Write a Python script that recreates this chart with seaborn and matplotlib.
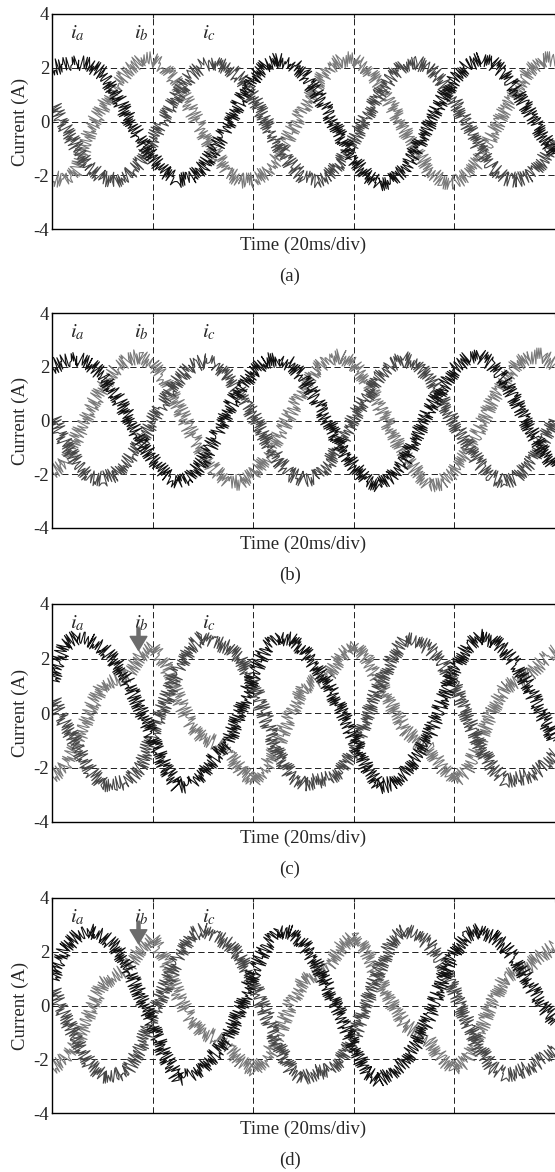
import numpy as np
import matplotlib
matplotlib.use("Agg")
import matplotlib.pyplot as plt
import seaborn as sns

# sample times (ms), one reading every 2.5 ms
t_ms = np.arange(0, 100.1, 2.5)

# (a)
ia_a = [2.0, 2.1, 2.2, 2.1, 1.8, 1.1, 0.2, -0.6, -1.3, -1.9, -2.2, -2.1, -1.7, -1.0, -0.1, 0.8, 1.6,
        2.1, 2.3, 2.2, 1.8, 1.1, 0.3, -0.6, -1.4, -2.0, -2.3, -2.2, -1.8, -1.0, -0.1, 0.8, 1.6, 2.1,
        2.3, 2.2, 1.8, 1.1, 0.3, -0.5, -1.2]
ib_a = [-2.1, -2.2, -1.8, -0.3, 0.5, 1.3, 1.9, 2.3, 2.3, 2.0, 1.4, 0.5, -0.4, -1.2, -1.9, -2.2, -2.2,
        -1.9, -1.3, -0.4, 0.5, 1.3, 2.0, 2.3, 2.3, 2.0, 1.4, 0.6, -0.3, -1.1, -1.8, -2.2, -2.3, -2.0,
        -1.4, -0.5, 0.4, 1.2, 1.9, 2.3, 2.3]
ic_a = [0.7, -0.2, -1.0, -1.7, -2.1, -2.2, -2.0, -1.5, -0.7, 0.2, 1.0, 1.7, 2.1, 2.2, 2.0, 1.6, 0.9,
        0.0, -0.9, -1.6, -2.1, -2.2, -2.0, -1.5, -0.7, 0.2, 1.0, 1.7, 2.1, 2.2, 2.0, 1.5, 0.8, -0.1,
        -1.0, -1.7, -2.1, -2.2, -2.0, -1.5, -0.7]

# (b)
ia_b = [2.0, 2.2, 2.3, 2.1, 1.7, 1.0, 0.2, -0.7, -1.4, -2.0, -2.3, -2.1, -1.5, -0.6, 0.4, 1.2, 1.8,
        2.2, 2.3, 2.1, 1.6, 0.8, -0.1, -1.0, -1.7, -2.2, -2.4, -2.1, -1.5, -0.6, 0.4, 1.2, 1.9, 2.3,
        2.4, 2.1, 1.5, 0.6, -0.3, -1.1, -1.7]
ib_b = [-1.9, -1.6, -0.6, 0.4, 1.2, 1.9, 2.3, 2.4, 2.1, 1.5, 0.6, -0.4, -1.2, -1.9, -2.3, -2.3, -2.0,
        -1.4, -0.6, 0.3, 1.2, 1.9, 2.3, 2.4, 2.1, 1.5, 0.6, -0.4, -1.3, -1.9, -2.4, -2.3, -1.9, -1.2,
        -0.3, 0.7, 1.5, 2.1, 2.4, 2.4, 2.1]
ic_b = [0.2, -0.8, -1.6, -2.1, -2.2, -2.0, -1.5, -0.8, 0.0, 0.8, 1.5, 2.0, 2.2, 2.1, 1.7, 1.0, 0.2,
        -0.7, -1.5, -2.0, -2.2, -2.1, -1.6, -0.8, 0.1, 0.9, 1.6, 2.1, 2.3, 2.1, 1.6, 0.8, -0.1, -0.9,
        -1.6, -2.1, -2.3, -2.1, -1.6, -0.8, 0.0]

# (c)
ia_c = [1.2, 2.5, 2.8, 2.7, 2.4, 1.9, 1.2, 0.2, -0.9, -2.0, -2.7, -2.6, -2.2, -1.6, -1.1, 0.1, 1.4,
        2.4, 2.8, 2.7, 2.3, 1.7, 1.0, 0.1, -0.9, -2.0, -2.7, -2.6, -2.2, -1.6, -0.8, 0.4, 1.6, 2.4,
        2.8, 2.7, 2.3, 1.7, 0.9, -0.1, -1.0]
ib_c = [-2.3, -2.0, -1.1, 0.1, 1.0, 1.2, 1.4, 2.1, 2.4, 1.8, 0.6, -0.4, -0.9, -1.1, -1.4, -2.1, -2.5,
        -2.0, -1.1, 0.0, 0.9, 1.2, 1.4, 2.1, 2.5, 2.0, 1.2, 0.3, -0.6, -1.0, -1.3, -2.0, -2.5, -2.1,
        -1.1, 0.1, 0.9, 1.2, 1.4, 1.9, 2.3]
ic_c = [0.6, -0.4, -1.2, -2.1, -2.6, -2.6, -2.5, -2.0, -0.8, 0.4, 1.6, 2.4, 2.8, 2.6, 2.4, 2.0, 1.1,
        -0.2, -1.5, -2.3, -2.6, -2.5, -2.4, -2.1, -1.4, -0.2, 1.0, 2.0, 2.7, 2.6, 2.4, 1.9, 1.0, -0.1,
        -1.2, -2.0, -2.5, -2.4, -2.3, -2.0, -1.5]

# (d)
ia_d = [1.0, 2.1, 2.6, 2.8, 2.6, 2.2, 1.5, 0.4, -0.7, -1.9, -2.7, -2.6, -2.3, -1.8, -1.2, -0.1, 1.2,
        2.2, 2.8, 2.7, 2.3, 1.6, 0.6, -0.4, -1.5, -2.5, -2.8, -2.5, -2.1, -1.4, -0.4, 0.9, 2.0, 2.6,
        2.8, 2.6, 2.2, 1.6, 0.8, 0.0, -0.6]
ib_d = [-2.3, -2.0, -1.4, -0.2, 0.8, 1.1, 1.4, 2.1, 2.5, 1.7, 0.4, -0.5, -1.0, -1.2, -1.5, -2.1, -2.4,
        -2.0, -1.1, 0.1, 0.9, 1.2, 1.5, 2.2, 2.6, 2.0, 1.0, 0.1, -0.7, -1.0, -1.3, -2.0, -2.4, -2.0,
        -1.0, 0.1, 1.0, 1.3, 1.5, 1.9, 2.2]
ic_d = [0.7, -0.4, -1.3, -2.2, -2.6, -2.6, -2.4, -1.6, -0.4, 0.7, 1.8, 2.6, 2.8, 2.6, 2.3, 1.8, 0.9,
        -0.3, -1.5, -2.4, -2.7, -2.5, -2.4, -2.0, -1.2, 0.1, 1.3, 2.4, 2.8, 2.6, 2.3, 1.6, 0.5, -0.6,
        -1.6, -2.3, -2.6, -2.5, -2.3, -2.0, -1.6]

panels = [
    ("(a)", ia_a, ib_a, ic_a, False),
    ("(b)", ia_b, ib_b, ic_b, False),
    ("(c)", ia_c, ib_c, ic_c, True),
    ("(d)", ia_d, ib_d, ic_d, True),
]

sns.set_theme(style="white")
plt.rcParams["font.family"] = ["Liberation Serif", "DejaVu Serif"]
plt.rcParams["mathtext.fontset"] = "stix"
plt.rcParams["axes.unicode_minus"] = False
plt.rcParams["lines.scale_dashes"] = False

fig = plt.figure(figsize=(5.55, 11.72), dpi=100)
W, H = 555.0, 1172.0
# (top, bottom) of each axes box in pixels
boxes = [(14, 229), (313, 528), (604, 822), (898, 1113)]
colors = {"a": "#101010", "b": "#7a7a7a", "c": "#474747"}

for (cap, ia, ib, ic, arrow), (top, bot) in zip(panels, boxes):
    ax = fig.add_axes([52 / W, 1 - bot / H, (555 - 52) / W, (bot - top) / H])
    for vals, key in [(ib, "b"), (ic, "c"), (ia, "a")]:
        sns.lineplot(x=t_ms, y=vals, ax=ax, color=colors[key], linewidth=0.8,
                     legend=False, errorbar=None)
        # switching ripple drawn as a rendering wiggle on top of the read waveform
        ax.lines[-1].set_sketch_params(8, 2.5, 2)

    ax.set_xlim(0, 99.6)
    ax.set_ylim(-4, 4)
    ax.set_xticks([0, 20, 40, 60, 80, 100])
    ax.set_yticks([-4, -2, 0, 2, 4])
    ax.set_axisbelow(True)
    ax.grid(True, color="#202020", linewidth=0.7, linestyle=(0, (4.5, 2.5)))
    ax.tick_params(axis="both", direction="in", length=3, width=0.8, top=True,
                   right=False, labelbottom=False, labelsize=13.5, pad=2)
    for s in ["left", "bottom", "top"]:
        ax.spines[s].set_color("black")
        ax.spines[s].set_linewidth(1.0)
    ax.spines["right"].set_visible(False)

    ax.set_ylabel("Current (A)", fontsize=13.5, labelpad=3)
    ax.set_xlabel("Time (20ms/div)", fontsize=13.5)
    ax.xaxis.set_label_coords(0.5, -8.0 / (bot - top))

    ly = 4 - 19.0 / ((bot - top) / 8.0)
    ax.text(5.0, ly, r"$i_a$", fontsize=15, ha="center", va="center")
    ax.text(17.7, ly, r"$i_b$", fontsize=15, ha="center", va="center")
    ax.text(31.3, ly, r"$i_c$", fontsize=15, ha="center", va="center")

    if arrow:
        ax.annotate("", xy=(17.2, 2.3), xytext=(17.2, 3.12),
                    arrowprops=dict(width=2.2, headwidth=12, headlength=10,
                                    color="#6c6c6c", shrink=0))

    fig.text(290 / W, 1 - (bot + 47) / H, cap, fontsize=13.5, ha="center", va="center")

fig.savefig("out.png", dpi=100)
